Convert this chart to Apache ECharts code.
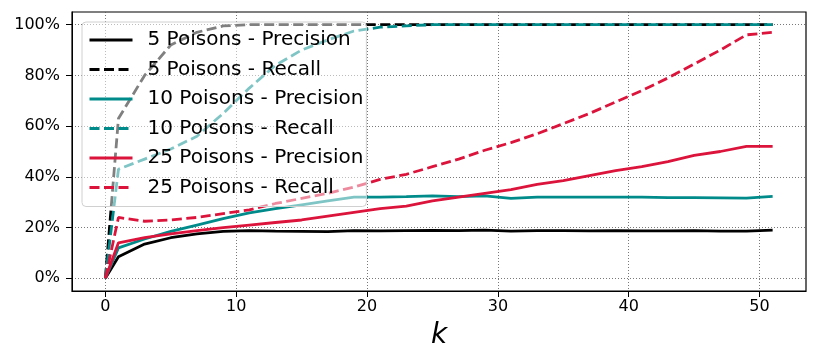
<!DOCTYPE html>
<html>
<head>
<meta charset="utf-8">
<script src="https://cdn.jsdelivr.net/npm/echarts@6/dist/echarts.min.js"></script>
<style>
  html, body { margin: 0; padding: 0; background: #fff; }
</style>
</head>
<body>
<div id="chartLineBox" style="width: 831px; height: 360px;"></div>
<script>
// k values (x axis)
const kValues = [0, 1, 3, 5, 7, 9, 11, 13, 15, 17, 19, 21, 23, 25, 27, 29, 31, 33, 35, 37, 39, 41, 43, 45, 47, 49, 51];

// percentages
const p5Precision = [0, 8.5, 13.5, 16, 17.5, 18.5, 18.8, 18.6, 18.5, 18.4, 18.8, 18.7, 18.8, 18.9, 18.8, 19, 18.6, 18.8, 18.8, 18.7, 18.8, 18.7, 18.7, 18.8, 18.6, 18.6, 19];
const p5Recall = [0, 63, 80, 92, 97, 99.5, 100, 100, 100, 100, 100, 100, 100, 100, 100, 100, 100, 100, 100, 100, 100, 100, 100, 100, 100, 100, 100];
const p10Precision = [0, 12, 15.5, 18.5, 21, 23.5, 25.8, 27.5, 29, 30.5, 32, 32, 32.2, 32.5, 32.2, 32.5, 31.5, 32, 32, 32, 32, 32, 31.8, 31.8, 31.7, 31.6, 32.3];
const p10Recall = [0, 43, 47, 51, 56, 65, 75, 84, 90, 94, 97.5, 99, 99.5, 100, 100, 100, 100, 100, 100, 100, 100, 100, 100, 100, 100, 100, 100];
const p25Precision = [0, 14, 16, 17.5, 18.8, 20, 21, 22, 23, 24.5, 26, 27.5, 28.5, 30.5, 32, 33.5, 35, 37, 38.5, 40.5, 42.5, 44, 46, 48.5, 50, 52, 52];
const p25Recall = [0, 24, 22.5, 23, 24, 25.5, 27, 29.5, 31.5, 33.5, 36, 39, 41, 44, 47, 50.5, 53.5, 57, 61, 65, 69.5, 74, 79, 84.5, 90, 96, 97];

const xTicks = [0, 10, 20, 30, 40, 50];
const yTicks = [0, 20, 40, 60, 80, 100];

function pairs(vals) {
  return kValues.map((k, i) => [k, vals[i]]);
}

function makeSeries(name, vals, color, dashed) {
  return {
    name: name,
    type: 'line',
    data: pairs(vals),
    symbol: 'none',
    smooth: false,
    animation: false,
    lineStyle: { color: color, width: 2.8, type: dashed ? [10, 4.5] : 'solid' },
    itemStyle: { color: color }
  };
}

const chart = echarts.init(document.getElementById('chartLineBox'));
chart.setOption({
  animation: false,
  textStyle: { fontFamily: 'DejaVu Sans' },
  grid: {
    left: 72, right: 25, top: 12, bottom: 69,
    show: true, borderColor: '#000', borderWidth: 1.2
  },
  legend: {
    orient: 'vertical',
    left: 82, top: 22,
    padding: [8, 3, 9, 6],
    itemWidth: 43, itemHeight: 14,
    itemGap: 9.5,
    backgroundColor: 'rgba(255,255,255,0.5)',
    borderColor: '#d0d0d0', borderWidth: 1, borderRadius: 4,
    itemStyle: { opacity: 0 },
    lineStyle: { width: 3 },
    textStyle: { fontSize: 20, color: '#000', fontFamily: 'DejaVu Sans', padding: [0, 0, 0, 10] }
  },
  xAxis: {
    type: 'value',
    min: -2.55, max: 53.55,
    name: 'k',
    nameLocation: 'middle',
    nameGap: 31,
    nameTextStyle: { fontSize: 28, fontStyle: 'italic', color: '#000', fontFamily: 'DejaVu Sans' },
    axisLine: { show: true, onZero: false, lineStyle: { color: '#000' } },
    axisTick: { show: true, length: 6, customValues: xTicks, lineStyle: { color: '#000' } },
    axisLabel: { customValues: xTicks, fontSize: 16, color: '#000', margin: 8 },
    splitLine: { show: true, lineStyle: { color: '#555', type: [1, 2], width: 0.8 } }
  },
  yAxis: {
    type: 'value',
    min: -5, max: 105,
    axisLine: { show: true, onZero: false, lineStyle: { color: '#000' } },
    axisTick: { show: true, length: 6, customValues: yTicks, lineStyle: { color: '#000' } },
    axisLabel: { customValues: yTicks, fontSize: 16, color: '#000', margin: 12, formatter: '{value}%' },
    splitLine: { show: true, lineStyle: { color: '#555', type: [1, 2], width: 0.8 } }
  },
  series: [
    makeSeries('5 Poisons - Precision', p5Precision, '#000000', false),
    makeSeries('5 Poisons - Recall', p5Recall, '#000000', true),
    makeSeries('10 Poisons - Precision', p10Precision, '#008b8b', false),
    makeSeries('10 Poisons - Recall', p10Recall, '#008b8b', true),
    makeSeries('25 Poisons - Precision', p25Precision, '#dc143c', false),
    makeSeries('25 Poisons - Recall', p25Recall, '#dc143c', true)
  ]
});
</script>
</body>
</html>
